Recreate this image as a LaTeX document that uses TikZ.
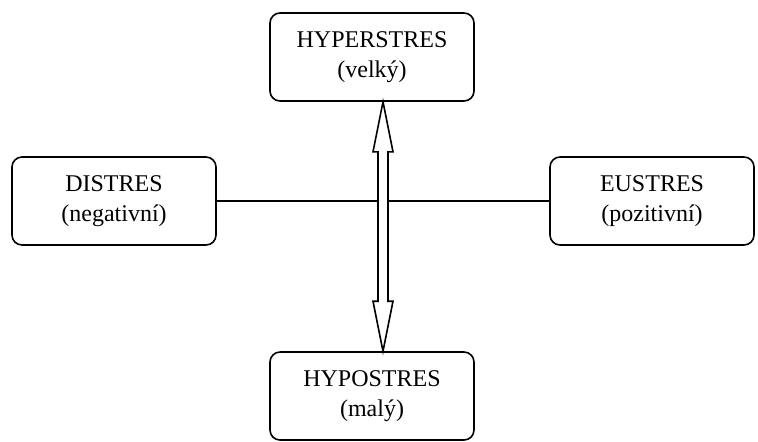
\documentclass[tikz,border=0pt]{standalone}
\usepackage{fontspec}
\setmainfont{Liberation Serif}
\usetikzlibrary{positioning,calc}
\tikzset{
  stresbox/.style={rectangle, draw, rounded corners=5pt, line width=0.8pt,
                   minimum width=102pt, minimum height=44pt, align=center,
                   font=\fontsize{12}{15}\selectfont},
  link/.style={line width=0.8pt},
  hollowarrow/.style={line width=0.8pt, fill=white}, % double arrow, white inside
}
\begin{document}
\begin{tikzpicture}[x=0.5pt,y=-0.5pt]
  \useasboundingbox (0,0) rectangle (758,441);

  \node[stresbox] (hyper) at (372,57) {HYPERSTRES\\(velký)};
  \node[stresbox] (hypo) at (372,396) {HYPOSTRES\\(malý)};
  \node[stresbox] (dis) at (114,201) {DISTRES\\(negativní)};
  \node[stresbox] (eu) at (652,201) {EUSTRES\\(pozitivní)};

  \draw[link] (dis) -- (eu);

  \coordinate (tiptop) at ($(hyper.south)+(11,0)$);
  \coordinate (tipbot) at ($(hypo.north)+(11,0)$);
  \draw[hollowarrow] (tiptop) -- ++(10,50) -- ++(-5,0) -- ($(tipbot)+(5,-50)$)
    -- ++(5,0) -- (tipbot) -- ++(-10,-50) -- ++(5,0)
    -- ($(tiptop)+(-5,50)$) -- ++(-5,0) -- cycle;

\end{tikzpicture}
\end{document}
